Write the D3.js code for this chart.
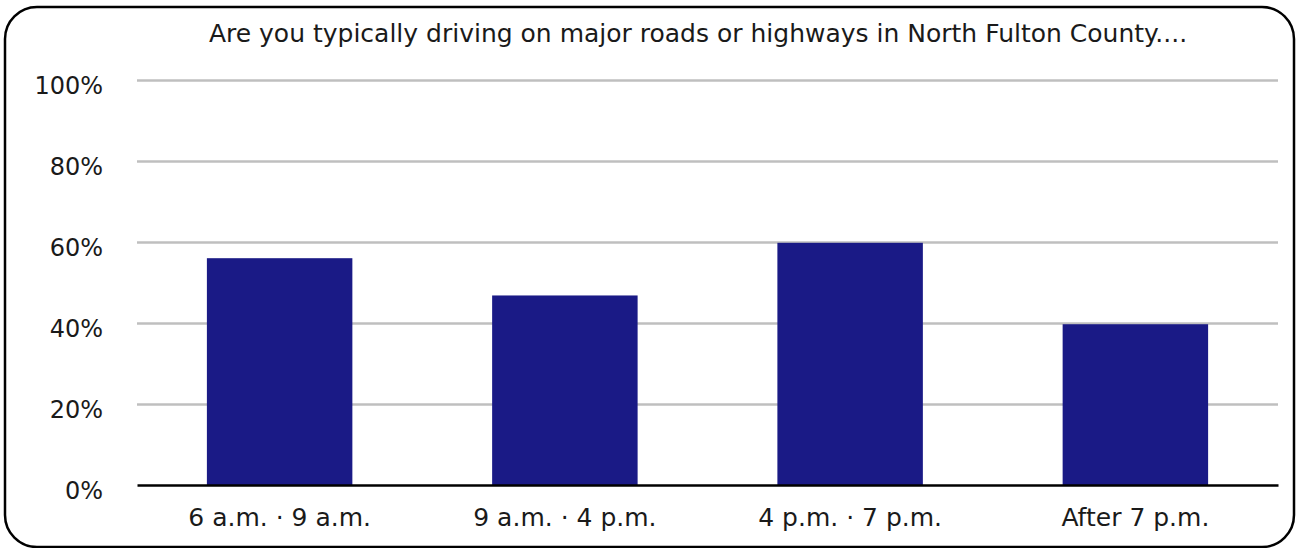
<!DOCTYPE html>
<html lang="en">
  <head>
    <meta charset="utf-8">
    <title>North Fulton driving times</title>
    <style>
body {
  margin: 0;
  background: #fff;
}
svg text {
  font-family: "DejaVu Sans", sans-serif;
  fill: #1a1a1a;
}
.grid line {
  stroke: #bfbfbf;
  stroke-width: 2.5;
}
.grid path {
  display: none;
}
.yaxis path, .yaxis line {
  display: none;
}
.xaxis line {
  display: none;
}
.xaxis path {
  stroke: #000;
  stroke-width: 2.5;
}
    </style>
  </head>
  <body>
    <svg></svg>
    <script src="https://cdn.jsdelivr.net/npm/d3@7"></script>
    <script>

    const categories = ["6 a.m. · 9 a.m.", "9 a.m. · 4 p.m.", "4 p.m. · 7 p.m.", "After 7 p.m."];
    const values = [0.56, 0.468, 0.598, 0.397];
    const yTicks = [0, 0.2, 0.4, 0.6, 0.8, 1.0];
    const title = "Are you typically driving on major roads or highways in North Fulton County....";

    const width = 1297, height = 548;
    const margin = {top: 80, right: 19, bottom: 63, left: 137};

    const svg = d3.select("svg")
        .attr("width", width)
        .attr("height", height);

    // rounded frame
    svg.append("rect")
        .attr("x", 5)
        .attr("y", 7)
        .attr("width", 1289)
        .attr("height", 540)
        .attr("rx", 32)
        .attr("fill", "#fff")
        .attr("stroke", "#000")
        .attr("stroke-width", 2.5);

    const x = d3.scaleBand()
        .domain(categories)
        .range([margin.left, width - margin.right])
        .paddingInner(0.49)
        .paddingOuter(0.245);

    const y = d3.scaleLinear()
        .domain([0, 1])
        .range([height - margin.bottom, margin.top]);

    svg.append("g")
        .attr("class", "grid")
        .attr("transform", "translate(" + margin.left + ",0)")
        .call(d3.axisLeft(y).tickValues(yTicks.slice(1))
          .tickSize(-(width - margin.left - margin.right)).tickFormat(""));

    svg.append("g")
        .attr("class", "yaxis")
        .attr("transform", "translate(103,0)")
        .call(d3.axisLeft(y).tickValues(yTicks).tickFormat(d3.format(".0%")).tickSize(0).tickPadding(0))
        .selectAll("text")
          .style("font-size", "24px")
          .attr("dy", "0.55em");

    svg.selectAll(".bar")
        .data(values)
      .enter().append("rect")
        .attr("class", "bar")
        .attr("x", function(d, i) { return x(categories[i]); })
        .attr("width", x.bandwidth())
        .attr("y", function(d) { return y(d); })
        .attr("height", function(d) { return y(0) - y(d); })
        .attr("fill", "#1a1a86");

    svg.append("g")
        .attr("class", "xaxis")
        .attr("transform", "translate(0," + y(0) + ")")
        .call(d3.axisBottom(x).tickSize(0).tickSizeOuter(0))
        .selectAll("text")
          .style("font-size", "25px")
          .attr("y", 41)
          .attr("dy", 0);

    svg.append("text")
        .attr("x", 698)
        .attr("y", 42)
        .attr("text-anchor", "middle")
        .style("font-size", "25px")
        .text(title);

    </script>
  </body>
</html>
